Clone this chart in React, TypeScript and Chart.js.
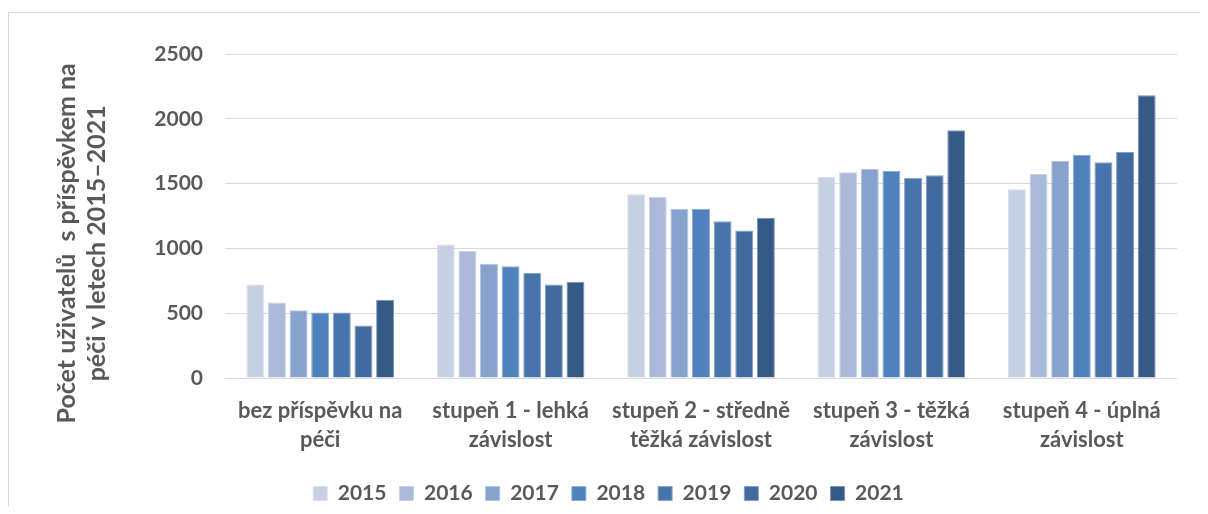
import React, { useEffect, useRef } from "react";
import { Chart, registerables } from "chart.js";

Chart.register(...registerables);

const categories: string[][] = [
  ["bez příspěvku na", "péči"],
  ["stupeň 1 - lehká", "závislost"],
  ["stupeň 2 - středně", "těžká závislost"],
  ["stupeň 3 - těžká", "závislost"],
  ["stupeň 4 - úplná", "závislost"],
];

const years = ["2015", "2016", "2017", "2018", "2019", "2020", "2021"];

const values2015 = [722, 1031, 1417, 1553, 1456];
const values2016 = [583, 979, 1396, 1587, 1574];
const values2017 = [523, 881, 1306, 1615, 1675];
const values2018 = [505, 863, 1306, 1597, 1723];
const values2019 = [505, 811, 1209, 1546, 1665];
const values2020 = [405, 722, 1139, 1564, 1744];
const values2021 = [603, 742, 1236, 1912, 2182];

const yMin = 0;
const yMax = 2500;
const yStep = 500;

const yTitle = ["Počet uživatelů  s příspěvkem na", "péči v letech 2015–2021"];

const seriesColors = ["#C5D0E3", "#ABBAD8", "#87A2CC", "#4F81BD", "#4775AB", "#416A9E", "#355A87"];

function lighten(hex: string, amt: number): string {
  const n = parseInt(hex.slice(1), 16);
  const r = (n >> 16) & 255, g = (n >> 8) & 255, b = n & 255;
  const m = (c: number) => Math.round(c + (255 - c) * amt);
  return `rgb(${m(r)},${m(g)},${m(b)})`;
}

const TEXT = "#595959";
const FONT = "Lato";
// trailing non-breaking spaces shift the centred rotated title down along the axis
const TITLE_SHIFT = "\u00A0".repeat(9);

export default function App() {
  const ref = useRef<HTMLCanvasElement | null>(null);

  useEffect(() => {
    if (!ref.current) return;
    const series = [values2015, values2016, values2017, values2018, values2019, values2020, values2021];
    const chart = new Chart(ref.current, {
      type: "bar",
      data: {
        labels: categories,
        datasets: years.map((y, i) => ({
          label: y,
          data: series[i],
          backgroundColor: seriesColors[i],
          borderColor: lighten(seriesColors[i], 0.35),
          borderWidth: 1,
          categoryPercentage: 0.795,
          barPercentage: 0.83,
        })),
      },
      options: {
        responsive: false,
        animation: false,
        events: [],
        layout: { padding: { top: 41, right: 31, bottom: 0, left: 31 } },
        plugins: {
          legend: {
            position: "bottom",
            labels: {
              boxWidth: 14,
              boxHeight: 14,
              padding: 13,
              color: TEXT,
              font: { family: FONT, size: 21, weight: "bold" },
            },
          },
          tooltip: { enabled: false },
        },
        scales: {
          x: {
            grid: { display: false, drawTicks: false },
            border: { display: false },
            ticks: {
              color: TEXT,
              padding: 18,
              maxRotation: 0,
              autoSkip: false,
              font: { family: FONT, size: 22, weight: "bold", lineHeight: 29 / 22 },
            },
            afterFit: (s: any) => {
              s.height = 92;
            },
          },
          y: {
            min: yMin,
            max: yMax,
            grid: { color: "#D9D9D9", lineWidth: 1, drawTicks: false },
            border: { display: false },
            ticks: {
              stepSize: yStep,
              padding: 22,
              color: TEXT,
              font: { family: FONT, size: 21, weight: "bold" },
              callback: (v: any) => String(v),
            },
            title: {
              display: true,
              text: yTitle.map((t) => t + TITLE_SHIFT),
              color: TEXT,
              padding: { top: 12, bottom: 0 },
              font: { family: FONT, size: 25, weight: "bold", lineHeight: 30 / 25 },
            },
            afterFit: (s: any) => {
              s.width = 185;
            },
          },
        },
      },
    });
    return () => chart.destroy();
  }, []);

  return (
    <div style={{ paddingTop: 4, marginBottom: -8 }}>
      <div
        style={{
          borderLeft: "1px solid #D9D9D9",
          borderTop: "1px solid #D9D9D9",
          width: 1199,
          height: 501,
          background: "#FFFFFF",
        }}
      >
        <canvas ref={ref} width={1199} height={501} style={{ display: "block" }} />
      </div>
    </div>
  );
}
